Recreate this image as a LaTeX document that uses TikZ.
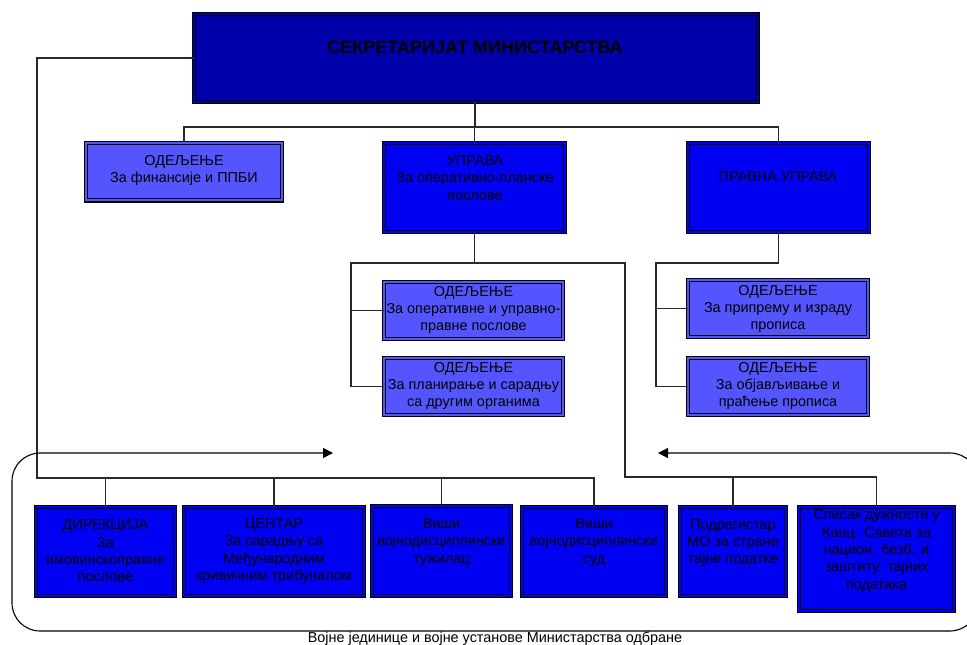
\documentclass[tikz,border=0pt]{standalone}
\usepackage{fontspec}
\setmainfont{Liberation Sans}
\usetikzlibrary{arrows.meta}
\definecolor{cTop}{RGB}{0,0,170}
\definecolor{cMid}{RGB}{0,0,242}
\definecolor{cLight}{RGB}{85,85,255}
\definecolor{cLine}{RGB}{40,40,40}
\tikzset{
  bx/.style={draw=black, line width=1.2pt, double=#1, double distance=2pt, fill=#1, inner sep=0pt},
  txt/.style={align=center, inner sep=0pt, text=black, font=\fontsize{14.4}{17.4}\selectfont},
  conn/.style={draw=cLine, line width=1.1pt},
  frame/.style={draw=black, line width=1.1pt, rounded corners=28pt, {Triangle[length=10pt,width=10pt]}-{Triangle[length=10pt,width=10pt]}}
}
\begin{document}
\begin{tikzpicture}[x=1pt,y=-1pt]
\useasboundingbox (0,0) rectangle (967,645);
\clip (0,0) rectangle (967,645);
\fill[white] (0,0) rectangle (967,645);
% boxes (outer extents minus 4.4)
\node[bx=cTop, minimum width=563.6pt, minimum height=87.6pt] (top) at (476,58) {};
\node[bx=cLight, minimum width=195.6pt, minimum height=57.6pt] (odel) at (184,171.5) {};
\node[bx=cMid, minimum width=180.6pt, minimum height=88.6pt] (upr) at (474.5,187.5) {};
\node[bx=cMid, minimum width=180.6pt, minimum height=88.6pt] (prav) at (778.5,187.5) {};
\node[bx=cLight, minimum width=178.6pt, minimum height=56.6pt] (u1) at (473.5,310.5) {};
\node[bx=cLight, minimum width=178.6pt, minimum height=56.6pt] (u2) at (473.5,386.5) {};
\node[bx=cLight, minimum width=179.6pt, minimum height=56.6pt] (p1) at (778,308.5) {};
\node[bx=cLight, minimum width=179.6pt, minimum height=56.6pt] (p2) at (778,386.5) {};
\node[bx=cMid, minimum width=138.6pt, minimum height=88.6pt] (dir) at (105.5,551.5) {};
\node[bx=cMid, minimum width=179.6pt, minimum height=88.6pt] (cen) at (274,551.5) {};
\node[bx=cMid, minimum width=138.6pt, minimum height=89.6pt] (tuz) at (441.5,551) {};
\node[bx=cMid, minimum width=143.6pt, minimum height=88.6pt] (sud) at (594,551.5) {};
\node[bx=cMid, minimum width=105.6pt, minimum height=88.6pt] (podr) at (733,551.5) {};
\node[bx=cMid, minimum width=154.6pt, minimum height=103.6pt] (spis) at (876.5,559) {};
% texts
\node[txt, font=\fontsize{18}{20}\selectfont\bfseries] (ttop) at (475,47) {СЕКРЕТАРИЈАТ МИНИСТАРСТВА};
\node[txt] (todel) at (184,170.5) {ОДЕЉЕЊЕ\\За финансије и ППБИ};
\node[txt] (tupr) at (475,178) {УПРАВА\\За оперативно-планске\\послове};
\node[txt] (tprav) at (778,177) {ПРАВНА УПРАВА};
\node[txt] (tu1) at (473.5,310) {ОДЕЉЕЊЕ\\За оперативне и управно-\\правне послове};
\node[txt] (tu2) at (473.5,386) {ОДЕЉЕЊЕ\\За планирање и сарадњу\\са другим органима};
\node[txt] (tp1) at (778,309) {ОДЕЉЕЊЕ\\За припрему и израду\\прописа};
\node[txt] (tp2) at (778,386) {ОДЕЉЕЊЕ\\За објављивање и\\праћење прописа};
\node[txt] (tdir) at (105.5,551) {ДИРЕКЦИЈА\\За\\имовинскоправне\\послове};
\node[txt] (tcen) at (274,551) {ЦЕНТАР\\За сарадњу са\\Међународним\\кривичним трибуналом};
\node[txt] (ttuz) at (441.5,542.5) {Виши\\војнодисциплински\\тужилац};
\node[txt] (tsud) at (594,542.5) {Виши\\војнодисциплински\\суд};
\node[txt] (tpodr) at (733,543) {Подрегистар\\МО за стране\\тајне податке};
\node[txt] (tspis) at (876.5,551) {Списак дужности у\\Канц. Савета за\\национ. безб. и\\заштиту. тајних\\података};
\node[txt] (lab) at (495,638.5) {Војне јединице и војне установе Министарства одбране};
% connectors
\coordinate (b1) at (475,127);
\draw[conn] (top.south -| b1) -- (b1);
\draw[conn] (odel.north) |- (b1) -| (prav.north);
\draw[conn] (upr.north) -- (upr.north |- b1);
\coordinate (ul) at (351,263);
\coordinate (ur) at (625,263);
\coordinate (rb) at (625,477);
\draw[conn] (upr.south) -- (upr.south |- ul);
\draw[conn] (u2.west) -| (ul) -- (ur) -- (rb) -| (spis.north);
\draw[conn] (u1.west) -- (u1.west -| ul);
\draw[conn] (podr.north) -- (podr.north |- rb);
\coordinate (pl) at (656,263);
\draw[conn] (prav.south) |- (pl) |- (p2.west);
\draw[conn] (p1.west) -- (p1.west -| pl);
\coordinate (lb) at (37,478);
\draw[conn] (top.west) -| (lb) -| (sud.north);
\draw[conn] (dir.north) -- (dir.north |- lb);
\draw[conn] (cen.north) -- (cen.north |- lb);
\draw[conn] (tuz.north) -- (tuz.north |- lb);
% frame with arrows
\coordinate (fa) at (333,453);
\coordinate (fb) at (658,453);
\draw[frame] (fa) -- (12,453) -- (12,631) -- (978,631) -- (978,453) -- (fb);
\end{tikzpicture}
\end{document}
